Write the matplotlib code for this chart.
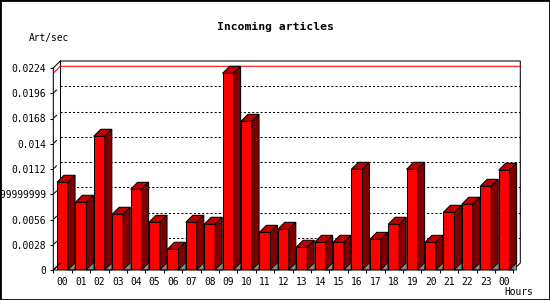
import matplotlib
matplotlib.use('Agg')
import matplotlib.pyplot as plt
from matplotlib.patches import Polygon, Rectangle
from matplotlib.lines import Line2D

# ---- data ----
hours = ['00', '01', '02', '03', '04', '05', '06', '07', '08', '09', '10', '11',
         '12', '13', '14', '15', '16', '17', '18', '19', '20', '21', '22', '23', '00']
rates = [0.00973, 0.00751, 0.01483, 0.00618, 0.00895, 0.00529, 0.00230, 0.00529,
         0.00507, 0.02181, 0.01649, 0.00418, 0.00451, 0.00252, 0.00307, 0.00307,
         0.01117, 0.00340, 0.00507, 0.01117, 0.00307, 0.00640, 0.00729, 0.00928,
         0.01106]
yticks = [0, 0.0028, 0.0056, 0.0084, 0.0112, 0.014, 0.0168, 0.0196, 0.0224]
ytick_labels = ['0', '0.0028', '0.0056', '0.008399999999999999', '0.0112', '0.014',
                '0.0168', '0.0196', '0.0224']
title = 'Incoming articles'
ylabel = 'Art/sec'
xlabel = 'Hours'

FONT = 'DejaVu Sans Mono'
W, H = 550, 300
fig = plt.figure(figsize=(W / 100, H / 100), dpi=100)
fig.patch.set_facecolor('white')

x0, x1 = 53.3, 513.3
y0, y1 = 270, 68
ax = fig.add_axes([x0 / W, 1 - y0 / H, (x1 - x0) / W, (y0 - y1) / H])
n = len(rates)
ymax = yticks[-1]
ax.set_xlim(0, n)
ax.set_ylim(0, ymax)
for s in ax.spines.values():
    s.set_visible(False)
ax.patch.set_visible(False)

D = 7.0  # depth in pixels
dx = D / ((x1 - x0) / n)
dy = D / ((y0 - y1) / ymax)

lw = 0.75

# back plane gridlines (dotted)
for v in yticks[1:-1]:
    ax.add_line(Line2D([dx, n + dx], [v + dy, v + dy], color='black', lw=lw,
                       dashes=(2.0, 2.0), zorder=1, clip_on=False))

# back frame
ax.add_line(Line2D([dx, n + dx, n + dx, n], [ymax + dy, ymax + dy, dy, 0],
                   color='black', lw=lw, zorder=1, clip_on=False))
ax.add_line(Line2D([dx, dx], [dy, ymax + dy], color='black', lw=lw, zorder=1,
                   clip_on=False))

# max line
m = max(rates)
ax.add_line(Line2D([0, dx, n + dx], [m, m + dy, m + dy], color='#ff0000', lw=lw,
                   zorder=2, clip_on=False))

# front axes
ax.add_line(Line2D([dx, 0, 0, n], [ymax + dy, ymax, 0, 0], color='black', lw=lw,
                   zorder=6, clip_on=False))
ax.add_line(Line2D([0, dx], [0, dy], color='black', lw=lw, zorder=6, clip_on=False))
for v in yticks[:-1]:
    ax.add_line(Line2D([dx * 0.15, dx * 0.45], [v + dy * 0.15, v + dy * 0.45],
                       color='black', lw=lw, zorder=6, clip_on=False))

# bars
centers = [i + 0.5 for i in range(n)]
bw = 0.6
ax.bar(centers, rates, width=bw, color='#ff0000', edgecolor='black', linewidth=lw,
       zorder=4)
for c, v in zip(centers, rates):
    xl, xr = c - bw / 2, c + bw / 2
    ax.add_patch(Polygon([(xl, v), (xl + dx, v + dy), (xr + dx, v + dy), (xr, v)],
                         closed=True, fc='#c00000', ec='black', lw=lw, zorder=4,
                         clip_on=False))
    ax.add_patch(Polygon([(xr, 0), (xr, v), (xr + dx, v + dy), (xr + dx, dy)],
                         closed=True, fc='#800000', ec='black', lw=lw, zorder=4,
                         clip_on=False))
    ax.add_patch(Polygon([(xr, 0), (xr + dx, dy), (xr + dx, 0)],
                         closed=True, fc='#8c8c8c', ec='black', lw=0.5, zorder=5,
                         clip_on=False))

# ticks
ax.set_yticks(yticks, ytick_labels)
ax.tick_params(axis='y', length=2.3, width=lw, pad=2.8, labelsize=6.9,
               direction='out', left=True)
ax.set_xticks(centers, hours)
ax.set_xticks(list(range(n + 1)), minor=True)
ax.tick_params(axis='x', which='major', length=0, pad=5.0, labelsize=6.9)
ax.tick_params(axis='x', which='minor', length=2.3, width=lw, direction='out')
for lab in ax.get_xticklabels() + ax.get_yticklabels():
    lab.set_fontfamily(FONT)

fig.text(275 / W, 1 - 27 / H, title, ha='center', va='center', fontsize=8.2,
         fontweight='bold', family=FONT)
fig.text(29 / W, 1 - 38 / H, ylabel, ha='left', va='center', fontsize=6.9,
         family=FONT)
fig.text(504 / W, 1 - 292 / H, xlabel, ha='left', va='center', fontsize=6.9,
         family=FONT)

fig.add_artist(Rectangle((0, 0), 1, 1, transform=fig.transFigure, fill=False,
                         ec='black', lw=2.0, zorder=10))

fig.savefig('out.png', dpi=100)
